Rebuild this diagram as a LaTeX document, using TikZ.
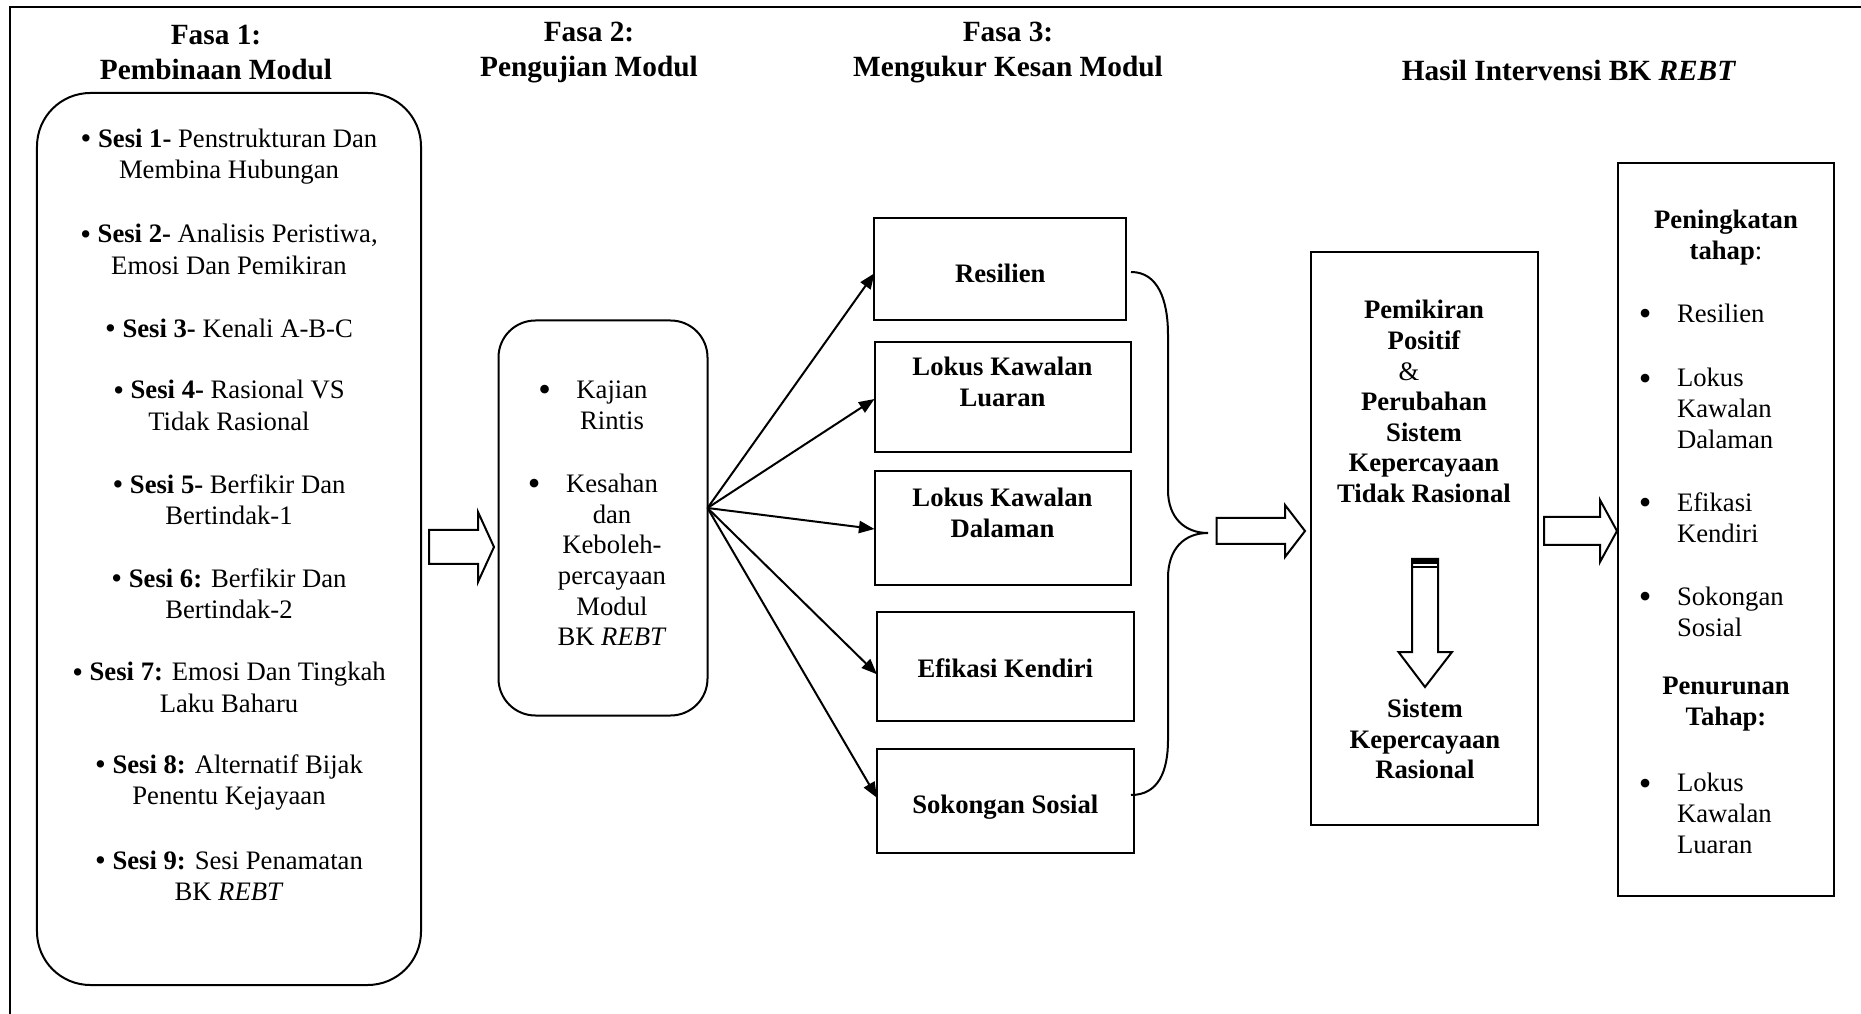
\documentclass[tikz,border=0pt]{standalone}
\usepackage{fontspec}
\usepackage{graphicx}
\setmainfont{Liberation Serif}
\usetikzlibrary{arrows.meta,calc}
\begin{document}
\begin{tikzpicture}[x=0.45pt,y=-0.45pt,
  every node/.style={font=\fontsize{12pt}{13.8pt}\selectfont, inner sep=0pt, outer sep=0pt},
  head/.style={font=\fontsize{13.2pt}{15.75pt}\selectfont\bfseries, align=center},
  item/.style={font=\fontsize{12pt}{14.1pt}\selectfont, align=center},
  rbox/.style={draw, line width=0.9pt},
  sq/.style={draw, line width=0.9pt, align=center, font=\fontsize{12pt}{13.8pt}\selectfont\bfseries},
  lst/.style={align=left, anchor=west},
  conn/.style={line width=0.9pt, -{Triangle[length=7pt,width=5.5pt]}},
  hollow/.style={draw, line width=0.9pt, fill=white, line join=miter},
]
\useasboundingbox (0,0) rectangle (1861,1014);
\newcommand{\bul}{\llap{\raisebox{-0.25ex}{\scalebox{1.35}{\textbullet}}\hspace{11.5pt}}}
\newcommand{\sbul}{\raisebox{-0.1ex}{\scalebox{1.15}{\textbullet}}}
\newcommand{\dn}[2]{\raisebox{-#1}[\height][\depth]{#2}}

% outer frame
\draw[line width=1.2pt] (10,1014) -- (10,7) -- (1861,7);

% headings
\node[head] (h1) at (216,52.5) {Fasa 1:\\Pembinaan Modul};
\node[head] (h2) at (589,52.5) {Fasa 2:\\Pengujian Modul};
\node[head] (h3) at (1008,52.5) {Fasa 3:\\Mengukur Kesan Modul};
\node[head] (h4) at (1569,70) {Hasil Intervensi BK \textit{REBT}};

% box 1
\node[rbox, rounded corners=24pt, minimum width=172.8pt, minimum height=401.4pt] (b1) at (229,539) {};
\node[item] (s1) at (229,156.5) {\sbul\ \textbf{Sesi 1-} Penstrukturan Dan\\Membina Hubungan};
\node[item] (s2) at (229,249.5) {\sbul\ \textbf{Sesi 2-} Analisis Peristiwa,\\Emosi Dan Pemikiran};
\node[item] (s3) at (229,328.5) {\sbul\ \textbf{Sesi 3-} Kenali A-B-C};
\node[item] (s4) at (229,405.5) {\sbul\ \textbf{Sesi 4-} Rasional VS\\Tidak Rasional};
\node[item] (s5) at (229,499.5) {\sbul\ \textbf{Sesi 5-} Berfikir Dan\\Bertindak-1};
\node[item] (s6) at (229,593.5) {\sbul\ \textbf{Sesi 6:} Berfikir Dan\\Bertindak-2};
\node[item] (s7) at (229,687.5) {\sbul\ \textbf{Sesi 7:} Emosi Dan Tingkah\\Laku Baharu};
\node[item] (s8) at (229,782.5) {\sbul\ \textbf{Sesi 8:} Alternatif Bijak\\Penentu Kejayaan};
\node[item] (s9) at (229,875.5) {\sbul\ \textbf{Sesi 9:} Sesi Penamatan\\BK \textit{REBT}};

% hollow arrow 1
\draw[hollow] (429,530) -- (478,530) -- (478,512) -- (494,547) -- (478,582) -- (478,564) -- (429,564) -- cycle;

% box 2
\node[rbox, rounded corners=16.6pt, minimum width=94.05pt, minimum height=177.75pt] (b2) at (603,518) {};
\node[align=center] (k1) at (612,405) {\bul Kajian\\Rintis};
\node[align=center] (k2) at (612,560) {\bul Kesahan\\dan\\Keboleh-\\percayaan\\Modul\\BK \textit{REBT}};

% fasa 3 boxes
\node[sq, minimum width=113.2pt, minimum height=46.1pt] (res) at (1000.25,269.25) {\dn{1.8pt}{Resilien}};
\node[sq, minimum width=115.2pt, minimum height=49.5pt] (lua) at (1002.5,397) {Lokus Kawalan\\Luaran\\\mbox{}};
\node[sq, minimum width=115.2pt, minimum height=51.3pt] (dal) at (1002.5,528) {Lokus Kawalan\\Dalaman\\\mbox{}};
\node[sq, minimum width=115.5pt, minimum height=49.2pt] (efi) at (1005.3,666.3) {\dn{1pt}{Efikasi Kendiri}};
\node[sq, minimum width=115.5pt, minimum height=46.7pt] (sok) at (1005.3,800.8) {\dn{2.7pt}{Sokongan Sosial}};

% connectors
\coordinate (src) at ($(b2.east)+(0,-10)$);
\draw[conn] (src) -- ($(res.west)+(0,4)$);
\draw[conn] (src) -- ($(lua.west)+(0,2)$);
\draw[conn] (src) -- ($(dal.west)+(0,1)$);
\draw[conn] (src) -- ($(efi.west)+(0,8)$);
\draw[conn] (src) -- ($(sok.west)+(0,-3)$);

% brace
\coordinate (bt) at (1131,272);
\coordinate (bb) at (1131,795);
\coordinate (btip) at (1208,533);
\draw[line width=0.9pt] (bt) .. controls (1158,272) and (1168,300) .. (1168,335)
  -- (1168,490) .. controls (1168,518) and (1185,533) .. (btip)
  .. controls (1185,533) and (1168,548) .. (1168,578)
  -- (1168,740) .. controls (1168,772) and (1158,795) .. (bb);

% hollow arrow 2
\draw[hollow] (1216.5,518) -- (1285,518) -- (1285,505) -- (1305,531) -- (1285,557) -- (1285,544) -- (1216.5,544) -- cycle;

% box 4
\node[rbox, minimum width=102.15pt, minimum height=257.85pt] (b4) at (1424.5,538.5) {};
\node[align=center, font=\fontsize{12pt}{13.75pt}\selectfont\bfseries] (t4a) at (1424,401.5)
  {Pemikiran\\Positif\\{\normalfont\&}\rule{13.5pt}{0pt}\\Perubahan\\Sistem\\Kepercayaan\\Tidak Rasional};
\draw[hollow] (1412,559) -- (1438,559) -- (1438,652) -- (1452,652) -- (1425,687) -- (1398.5,652) -- (1412,652) -- cycle;
\fill (1412,559) rectangle (1438,564);
\draw[line width=0.9pt] (1412,567.5) -- (1438,567.5);
\node[align=center, font=\fontsize{12pt}{13.75pt}\selectfont\bfseries] (t4b) at (1425,739)
  {Sistem\\Kepercayaan\\Rasional};

% hollow arrow 3
\draw[hollow] (1544,517) -- (1600,517) -- (1600,500) -- (1617,531) -- (1600,562) -- (1600,545) -- (1544,545) -- cycle;

% box 5
\node[rbox, minimum width=97.2pt, minimum height=329.85pt] (b5) at (1726,529.5) {};
\node[align=center] (p1) at (1726,237.5) {\textbf{Peningkatan}\\\textbf{tahap}:};
\node[lst] (r1) at (1677,315) {\bul Resilien};
\node[lst] (r2) at (1677,408.5) {\bul Lokus\\Kawalan\\Dalaman};
\node[lst] (r3) at (1677,518) {\bul Efikasi\\Kendiri};
\node[lst] (r4) at (1677,612) {\bul Sokongan\\Sosial};
\node[align=center] (p2) at (1726,704) {\textbf{Penurunan}\\\textbf{Tahap:}};
\node[lst] (r5) at (1677,813.5) {\bul Lokus\\Kawalan\\Luaran};
\end{tikzpicture}
\end{document}
